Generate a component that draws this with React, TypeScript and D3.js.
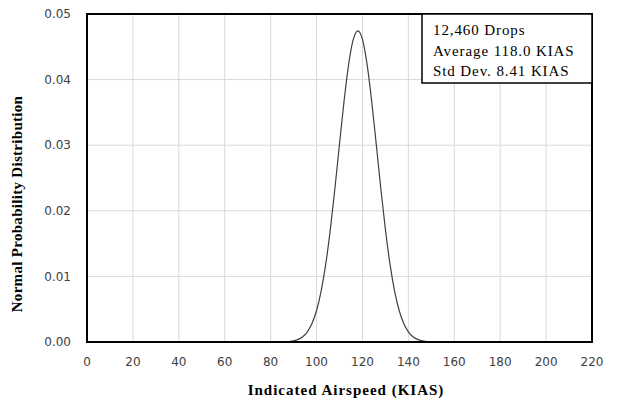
import React from "react";
import * as d3 from "d3";

const airspeed = [88, 90, 92, 94, 96, 98, 100, 102, 104, 106, 108, 110, 112, 114, 116, 118, 120, 122, 124, 126, 128, 130, 132, 134, 136, 138, 140, 142, 144, 146, 148];
const density = [0.00008, 0.00019, 0.0004, 0.00081, 0.00155, 0.00281, 0.0048, 0.00777, 0.01187, 0.01714, 0.0234, 0.03018, 0.03678, 0.04237, 0.04612, 0.04744, 0.04612, 0.04237, 0.03678, 0.03018, 0.0234, 0.01714, 0.01187, 0.00777, 0.0048, 0.00281, 0.00155, 0.00081, 0.0004, 0.00019, 0.00008];
const xTicks = [0, 20, 40, 60, 80, 100, 120, 140, 160, 180, 200, 220];
const yTicks = [0, 0.01, 0.02, 0.03, 0.04, 0.05];
const infoLines = ["12,460 Drops", "Average 118.0 KIAS", "Std Dev. 8.41 KIAS"];
const xTitle = "Indicated Airspeed (KIAS)";
const yTitle = "Normal Probability Distribution";

export default function App() {
  const W = 619, H = 402;
  const L = 87, R = 592, T = 14, B = 342;
  const x = d3.scaleLinear().domain([0, 220]).range([L, R]);
  const y = d3.scaleLinear().domain([0, 0.05]).range([B, T]);
  const pts = airspeed.map((a, i) => [a, density[i]] as [number, number]);
  const line = d3.line<[number, number]>().x(d => x(d[0])).y(d => y(d[1])).curve(d3.curveMonotoneX);
  return (
    <svg width={W} height={H} style={{ position: "absolute", left: 0, top: 0, background: "#fff" }}>
      <rect x={0} y={0} width={W} height={H} fill="#fff" />
      {xTicks.map(t => (
        <line key={"gx" + t} x1={x(t)} x2={x(t)} y1={T} y2={B} stroke="#d9d9d9" strokeWidth={1} />
      ))}
      {yTicks.map(t => (
        <line key={"gy" + t} x1={L} x2={R} y1={y(t)} y2={y(t)} stroke="#d9d9d9" strokeWidth={1} />
      ))}
      <path d={line(pts) || ""} fill="none" stroke="#404040" strokeWidth={1.2} />
      <rect x={L} y={T} width={R - L} height={B - T} fill="none" stroke="#000" strokeWidth={2} />
      {yTicks.map(t => (
        <text key={"ty" + t} x={L - 16} y={y(t)} dy="0.35em" textAnchor="end" fontFamily="DejaVu Sans" fontSize={12} fill="#404040">
          {d3.format(".2f")(t)}
        </text>
      ))}
      {xTicks.map(t => (
        <text key={"tx" + t} x={x(t)} y={B + 20} dy="0.35em" textAnchor="middle" fontFamily="DejaVu Sans" fontSize={12} fill="#404040">
          {t}
        </text>
      ))}
      <text x={346} y={390} dy="0.35em" textAnchor="middle" fontFamily="Liberation Serif" fontWeight="bold" fontSize={15} letterSpacing={1} fill="#000">
        {xTitle}
      </text>
      <text transform={`translate(17,204) rotate(-90)`} dy="0.35em" textAnchor="middle" fontFamily="Liberation Serif" fontWeight="bold" fontSize={15} letterSpacing={0.3} fill="#000">
        {yTitle}
      </text>
      <rect x={422} y={T} width={R - 422} height={69} fill="#fff" stroke="#000" strokeWidth={1.5} />
      {infoLines.map((s, i) => (
        <text key={s} x={433} y={35 + i * 20.5} fontFamily="Liberation Serif" fontSize={15} letterSpacing={0.9} fill="#000">
          {s}
        </text>
      ))}
    </svg>
  );
}
